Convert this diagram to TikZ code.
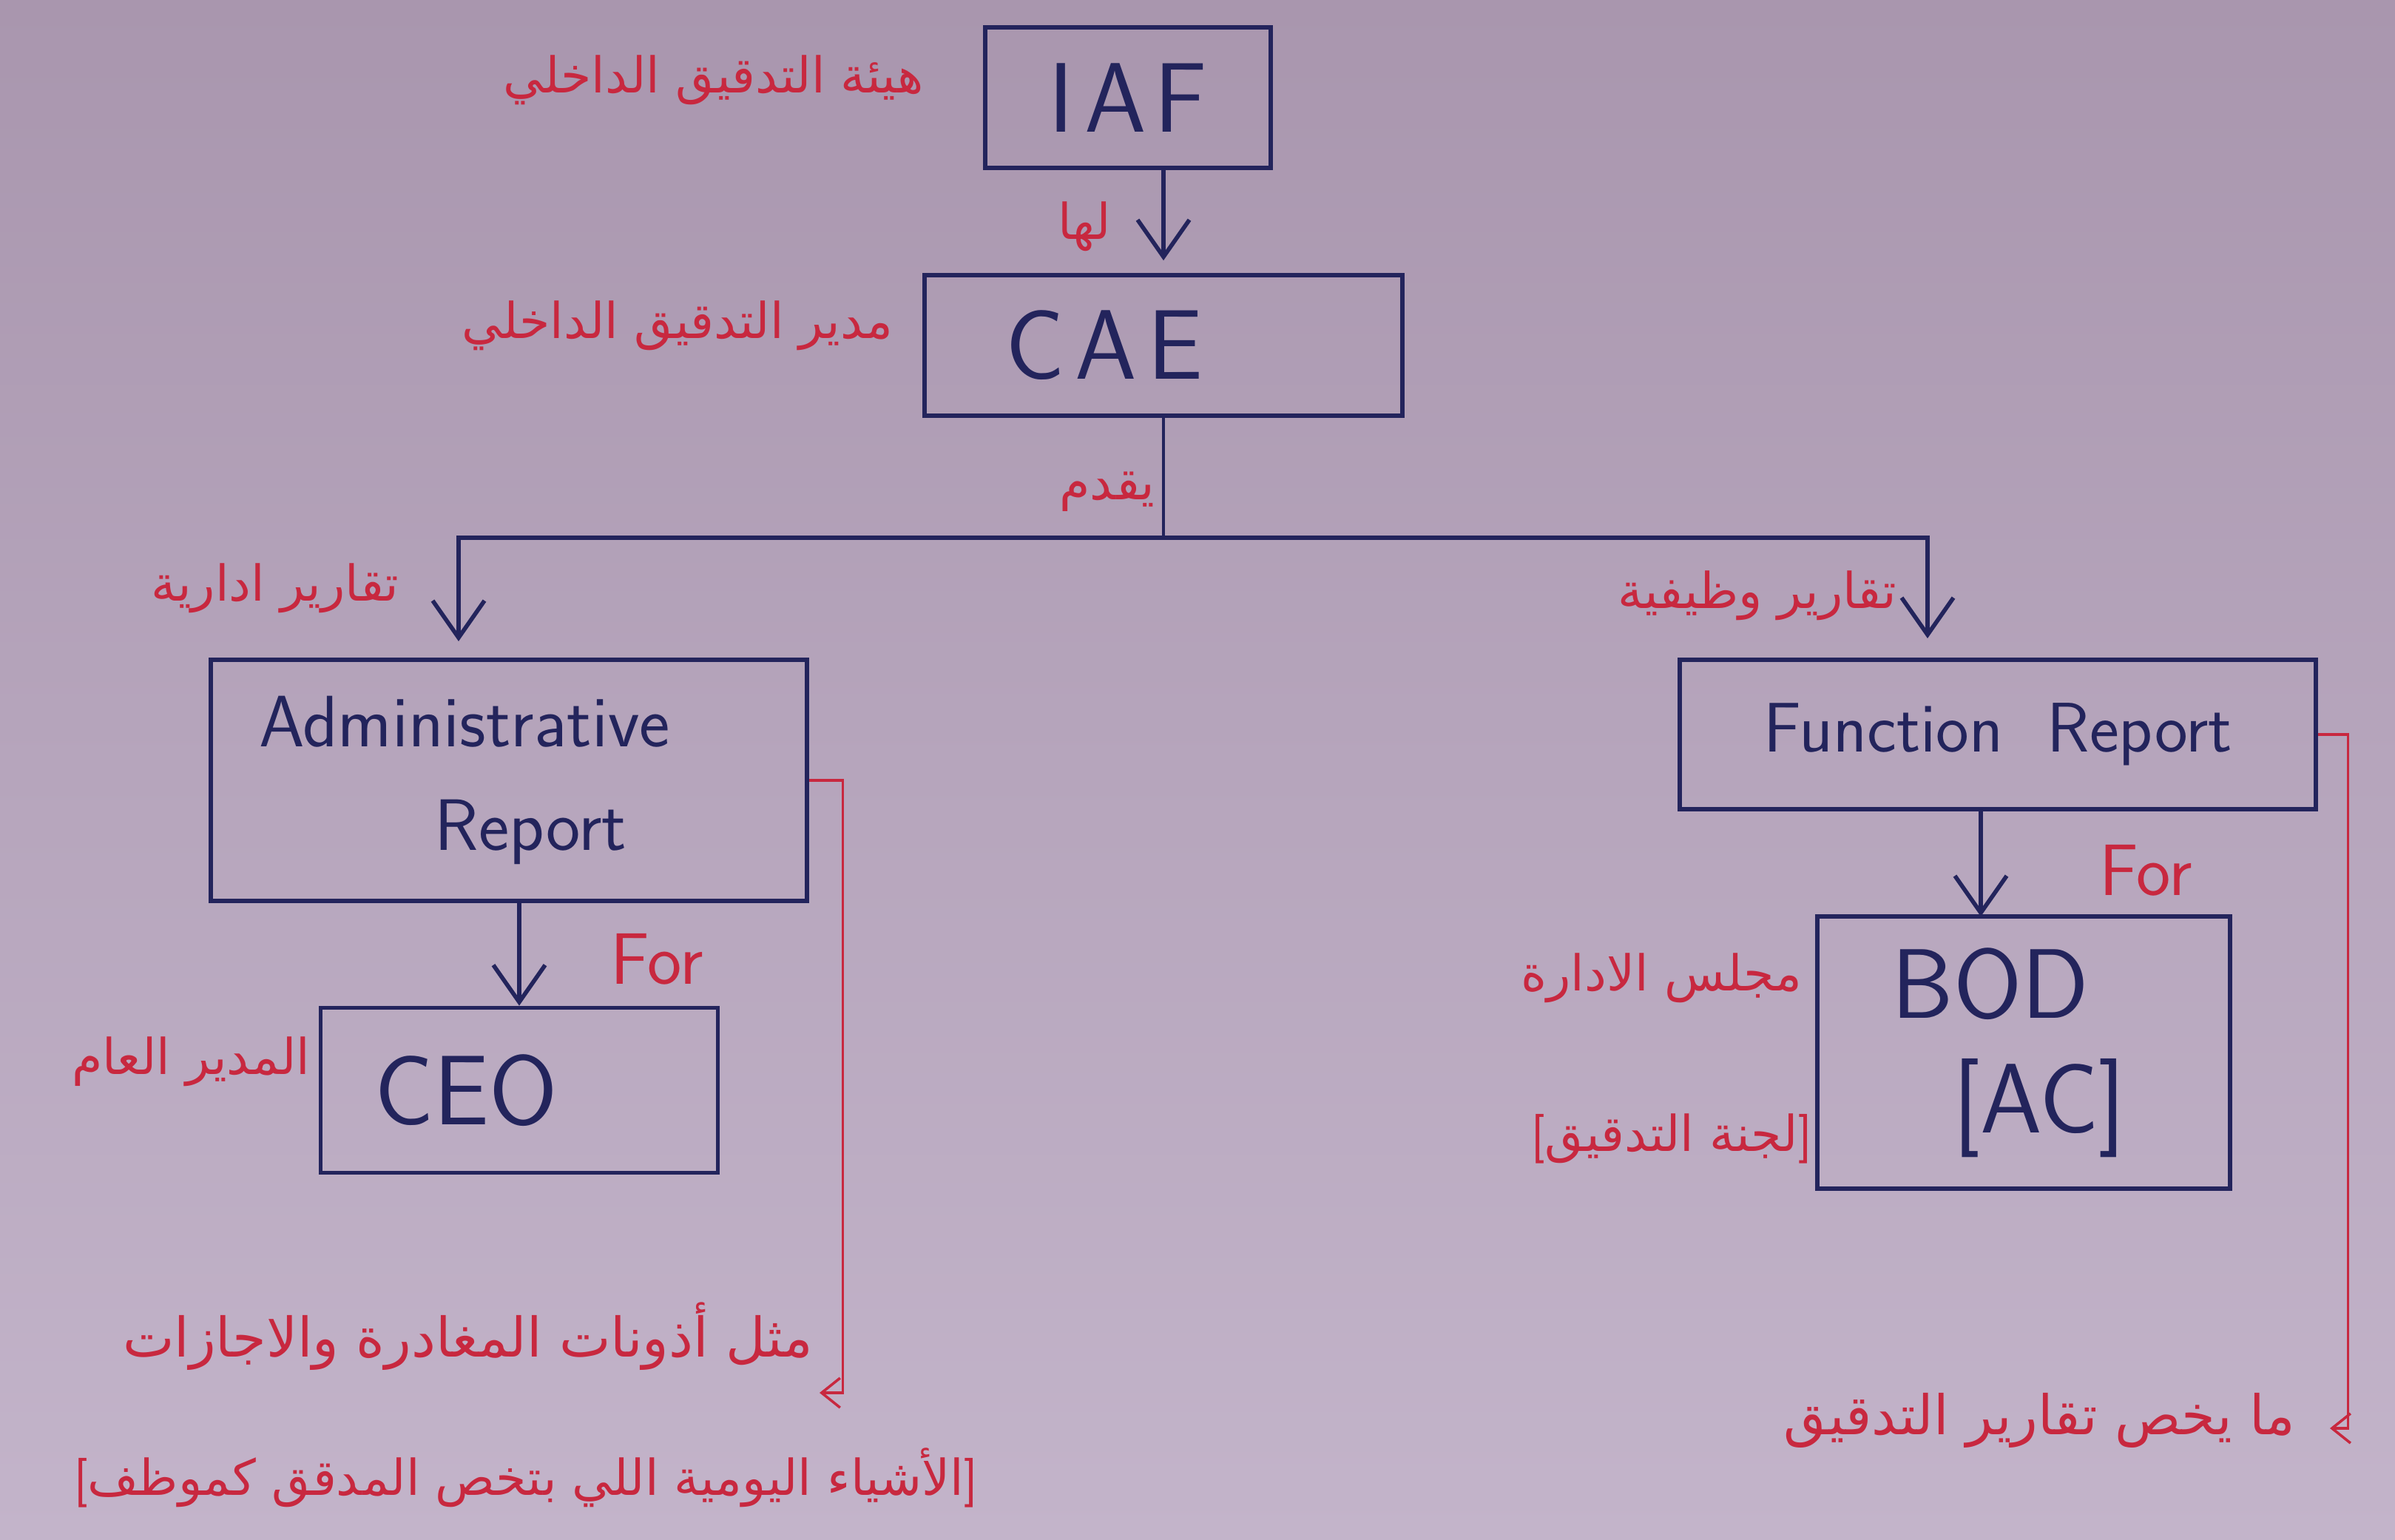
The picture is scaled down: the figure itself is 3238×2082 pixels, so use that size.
\documentclass[tikz,border=0pt]{standalone}
\usepackage{fontspec}
\newfontfamily\arabicfont[Script=Arabic]{DejaVu Sans}
\TeXXeTstate=1
\usetikzlibrary{positioning, arrows.meta}
\definecolor{paperTop}{HTML}{A996AE}
\definecolor{paperBot}{HTML}{C3B4CA}
\definecolor{inkBlue}{HTML}{23245C}
\definecolor{inkRed}{HTML}{C8283F}
\newcommand\artext[1]{{\arabicfont\beginR #1\endR}}
\newcommand\openbr{{\sffamily[}}
\newcommand\closebr{{\sffamily]}}
\tikzstyle{box}=[rectangle, draw=inkBlue, line width=1.6pt, text=inkBlue, font=\sffamily\fontsize{38}{44}\selectfont]
\tikzstyle{arrow}=[-{Straight Barb[length=5mm,width=7mm]}, line width=1.6pt, draw=inkBlue]
\tikzstyle{link}=[line width=1.4pt, draw=inkBlue]
\tikzstyle{note}=[text=inkRed, font=\arabicfont\fontsize{19}{23}\selectfont, inner sep=0pt]
\tikzstyle{bignote}=[note, font=\arabicfont\fontsize{21}{25}\selectfont]
\tikzstyle{forlabel}=[text=inkRed, font=\sffamily\fontsize{28}{32}\selectfont]
\tikzstyle{redarrow}=[-{Straight Barb[length=2.5mm,width=4mm]}, line width=1pt, draw=inkRed]

\begin{document}
\begin{tikzpicture}[x=0.01cm, y=-0.01cm]
  \shade[top color=paperTop, bottom color=paperBot] (0,0) rectangle (3238,2082);
  \useasboundingbox (0,0) rectangle (3238,2082);
  % boxes
  \node(iaf) at (1525,132) [box, minimum width=3.86cm, minimum height=1.9cm] {I\kern4pt A\kern3pt F};
  \node(cae) at (1573,467) [box, minimum width=6.46cm, minimum height=1.9cm] {C\kern4pt A\kern4pt E\hspace*{1.6cm}};
  \node(adm) at (688,1055) [box, minimum width=8.05cm, minimum height=3.26cm, align=left,
    font=\sffamily\fontsize{28}{40}\selectfont] {Administrative\hspace*{1.2cm}\\\hspace*{2.37cm}Report};
  \node(fun) at (2701,993) [box, minimum width=8.59cm, minimum height=2.02cm,
    font=\sffamily\fontsize{27}{40}\selectfont] {Function\ \ Report};
  \node(ceo) at (702,1474) [box, minimum width=5.37cm, minimum height=2.23cm] {CEO\hspace*{1.44cm}};
  \node(bod) at (2736,1423) [box, minimum width=5.58cm, minimum height=3.68cm, align=left] {BOD\hspace*{0.9cm}\\\hspace*{0.83cm}[AC]};
  % red notes
  \node(iafnote) at (1249,108) [note, anchor=east] {\artext{هيئة التدقيق الداخلي}};
  \node(caenote) at (1208,440) [note, anchor=east] {\artext{مدير التدقيق الداخلي}};
  \node(hasnote) at (1466,306) [note] {\artext{لها}};
  \node(givesnote) at (1497,665) [note] {\artext{يقدم}};
  \node(admrep) at (372,795) [note] {\artext{تقارير ادارية}};
  \node(funrep) at (2565,805) [note, anchor=east] {\artext{تقارير وظيفية}};
  \node(forleft) at (888,1297) [forlabel] {For};
  \node(forright) at (2901,1177) [forlabel] {For};
  \node(ceonote) at (420,1435) [note, anchor=east] {\artext{المدير العام}};
  \node(bodnote) at (2437,1322) [note, anchor=east] {\artext{مجلس الادارة}};
  \node(acnote) at (2450,1539) [note, anchor=east] {\openbr\artext{لجنة التدقيق}\closebr};
  \node(admnote) at (1100,1807) [bignote, anchor=east] {\artext{مثل أذونات المغادرة والاجازات}};
  \node(admnotetwo) at (1322,1998) [note, anchor=east] {\openbr\artext{الأشياء اليومية اللي بتخص المدقق كموظف}\closebr};
  \node(funnote) at (3104,1920) [bignote, anchor=east] {\artext{ما يخص تقارير التدقيق}};
  % connectors
  \coordinate(split) at (1573,727);
  \coordinate(admtop) at (620,867);
  \coordinate(funtop) at (2606,863);
  \coordinate(bodtip) at (2678,1239);
  \coordinate(admhook) at (1108,1883);
  \coordinate(funhook) at (3150,1931);
  \draw[arrow, shorten >=0.17cm] (iaf.south -| cae.north) -- (cae.north);
  \draw[link] (cae) -- (split);
  \draw[arrow] (split) -| (admtop);
  \draw[arrow] (split) -| (funtop);
  \draw[arrow] (adm.south -| ceo.north) -- (ceo.north);
  \draw[arrow] (fun.south -| bodtip) -- (bodtip);
  \draw[redarrow] (adm.east) -- ++(46,0) |- (admhook);
  \draw[redarrow] (fun.east) -- ++(41,0) |- (funhook);
\end{tikzpicture}
\end{document}
